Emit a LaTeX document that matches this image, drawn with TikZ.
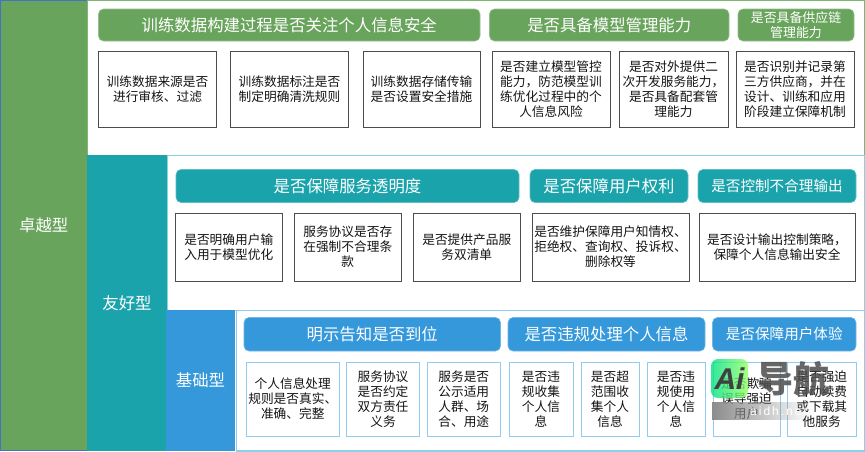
\documentclass[tikz,border=0pt]{standalone}
\usepackage{fontspec}
\setmainfont{Noto Sans CJK SC}
\setsansfont{Liberation Sans}
\usetikzlibrary{fadings}
\definecolor{grn}{HTML}{69A45C}
\definecolor{grnline}{HTML}{7DB872}
\definecolor{tea}{HTML}{1AA3AB}
\definecolor{tealine}{HTML}{86D5D8}
\definecolor{blu}{HTML}{3498DB}
\definecolor{bluline}{HTML}{92CBF0}
\definecolor{edgeblu}{HTML}{4472C4}
\begin{document}
\begin{tikzpicture}[x=1pt,y=-1pt,
    spot/.style n args={4}{at={({(#1+#3)/2},{(#2+#4)/2})},minimum width={#3-#1},minimum height={#4-#2}},
    band/.style={fill=#1,inner sep=0,text=white,font=\fontsize{16.4}{18}\selectfont},
    panel/.style={draw=#1,line width=1pt,fill=white,inner sep=0},
    head/.style={fill=#1,draw=#1!70!white,line width=.6pt,rounded corners=5,inner sep=0,align=center,text=white,font=\fontsize{16.4}{18}\selectfont},
    small/.style={font=\fontsize{14.6}{16}\selectfont},
    tiny/.style={font=\fontsize{12.9}{15}\selectfont},
    cell/.style={fill=white,draw=#1,line width=1pt,inner sep=0,align=center,text=black!92,font=\fontsize{12.7}{15}\selectfont}]
  \useasboundingbox (0,0) rectangle (865,451);
  % three levels
  \path node[band=grn,draw=edgeblu,line width=.5pt,spot={.5}{.5}{87}{450.5}] (excel) {卓越型};
  \path node[panel=grnline,spot={87}{.5}{864.5}{155}] (excelpanel) {};
  \path node[band=tea,spot={87}{155}{167}{451}] (friend) {友好型};
  \path node[panel=tealine,spot={167}{155.5}{864.5}{310}] (friendpanel) {};
  \path node[band=blu,spot={167}{310}{236}{451},xshift=-1] (basic) {基础型};
  \path node[panel=bluline,spot={236}{310.5}{864.5}{450.5}] (basicpanel) {};
  \draw[tealine,line width=1pt] (basicpanel.south west) -- (basicpanel.south east);
  % top row
  \path node[head=grn,spot={98.5}{9}{480}{41}] (h11) {训练数据构建过程是否关注个人信息安全};
  \path node[head=grn,spot={489.5}{9}{729}{41}] (h12) {是否具备模型管理能力};
  \path node[head=grn,tiny,spot={738}{9}{854}{41}] (h13) {是否具备供应链\\管理能力};
  \path node[cell=black!70,spot={98.5}{51}{216.5}{127}] (c11) {训练数据来源是否\\进行审核、过滤};
  \path node[cell=black!70,spot={230.5}{51}{348.5}{127}] (c12) {训练数据标注是否\\制定明确清洗规则};
  \path node[cell=black!70,spot={363}{51}{480}{127}] (c13) {训练数据存储传输\\是否设置安全措施};
  \path node[cell=black!70,spot={492}{51}{610}{127}] (c14) {是否建立模型管控\\能力，防范模型训\\练优化过程中的个\\人信息风险};
  \path node[cell=black!70,spot={619}{51}{728}{127}] (c15) {是否对外提供二\\次开发服务能力，\\是否具备配套管\\理能力};
  \path node[cell=black!70,spot={736}{51}{854}{127}] (c16) {是否识别并记录第\\三方供应商，并在\\设计、训练和应用\\阶段建立保障机制};
  % middle row
  \path node[head=tea,spot={176}{169.5}{519}{202.5}] (h21) {是否保障服务透明度};
  \path node[head=tea,spot={530}{169.5}{688}{202.5}] (h22) {是否保障用户权利};
  \path node[head=tea,small,spot={698}{169.5}{856}{202.5}] (h23) {是否控制不合理输出};
  \path node[cell=black!70,spot={175.5}{213}{282}{281}] (c21) {是否明确用户输\\入用于模型优化};
  \path node[cell=black!70,spot={294.5}{213}{401}{281}] (c22) {服务协议是否存\\在强制不合理条\\款};
  \path node[cell=black!70,spot={413.5}{213}{520}{281}] (c23) {是否提供产品服\\务双清单};
  \path node[cell=black!70,spot={532}{213}{689}{281}] (c24) {是否维护保障用户知情权、\\拒绝权、查询权、投诉权、\\删除权等};
  \path node[cell=black!70,spot={699}{213}{855}{281}] (c25) {是否设计输出控制策略，\\保障个人信息输出安全};
  % bottom row
  \path node[head=blu,spot={244}{317.5}{500.5}{351}] (h31) {明示告知是否到位};
  \path node[head=blu,spot={508}{317.5}{705}{351}] (h32) {是否违规处理个人信息};
  \path node[head=blu,small,spot={712.5}{317.5}{856}{351}] (h33) {是否保障用户体验};
  \path node[cell=bluline,spot={246.5}{362}{339}{436}] (c31) {个人信息处理\\规则是否真实、\\准确、完整};
  \path node[cell=bluline,spot={346.5}{362}{419.5}{436}] (c32) {服务协议\\是否约定\\双方责任\\义务};
  \path node[cell=bluline,spot={427}{362}{500.5}{436}] (c33) {服务是否\\公示适用\\人群、场\\合、用途};
  \path node[cell=bluline,spot={509}{362}{573}{436}] (c34) {是否违\\规收集\\个人信\\息};
  \path node[cell=bluline,spot={581}{362}{639}{436}] (c35) {是否超\\范围收\\集个人\\信息};
  \path node[cell=bluline,spot={647}{362}{705}{436}] (c36) {是否违\\规使用\\个人信\\息};
  \path node[cell=bluline,spot={713}{362}{780}{436}] (c37) {是否欺骗\\误导强迫\\用户};
  \path node[cell=bluline,spot={787.5}{362}{856}{436}] (c38) {是否强迫\\自动续费\\或下载其\\他服务};
  % site mark on top
  \path node[spot={712}{402}{812}{420},fill=black!45,path fading=east,inner sep=0] (markbar) {};
  \path node[spot={711}{359}{748}{398},rounded corners=7,left color=teal!40!green!60!cyan,right color=green!70!yellow!60,fill opacity=.8,text opacity=1,inner sep=0,font=\sffamily\bfseries\itshape\fontsize{30}{30}\selectfont,text=black!75] (marklogo) {Ai};
  \path node[anchor=west,inner sep=0,text=black!70,text opacity=.85,font=\bfseries\fontsize{36}{36}\selectfont] (markname) at (757,379) {导航};
  \path node[anchor=west,inner sep=0,text=white,font=\sffamily\fontsize{12}{12}\selectfont] (markurl) at (750,411) {a\,i\,d\,h\,.\,n\,e\,t};
\end{tikzpicture}
\end{document}
